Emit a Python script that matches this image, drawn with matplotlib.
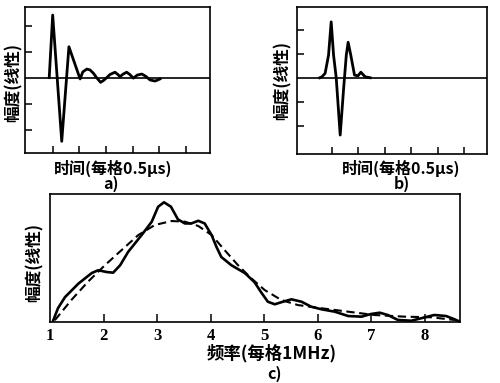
import matplotlib
matplotlib.use('Agg')
import matplotlib.pyplot as plt

plt.rcParams['font.family'] = ['Noto Sans CJK SC', 'DejaVu Sans']

# a) pulse with ringing, time axis in divisions of 0.5 us
a_t = [0.87, 1.00, 1.34, 1.61, 2.03, 2.13, 2.28, 2.40, 2.53, 2.65, 2.80, 2.92, 3.03, 3.15,
       3.34, 3.45, 3.53, 3.65, 3.78, 3.90, 4.03, 4.18, 4.35, 4.50, 4.66, 4.85, 5.03]
a_amp = [0.0, 2.41, -2.45, 1.19, -0.05, 0.22, 0.33, 0.30, 0.17, 0.0, -0.18, -0.10, 0.0, 0.12,
         0.21, 0.12, 0.04, 0.14, 0.21, 0.12, -0.02, 0.10, 0.14, 0.05, -0.09, -0.13, -0.05]

# b) damped pulse
b_t = [0.55, 0.63, 0.75, 0.88, 0.98, 1.07, 1.17, 1.32, 1.45, 1.55, 1.62, 1.72, 1.86, 1.99,
       2.10, 2.26, 2.45]
b_amp = [0.0, 0.04, 0.18, 0.94, 2.33, 0.94, 0.0, -2.39, -0.44, 0.94, 1.48, 0.94, 0.11, 0.08,
         0.23, 0.04, 0.0]

# c) spectra (MHz)
c_f = [1.06, 1.15, 1.28, 1.53, 1.78, 1.90, 2.06, 2.18, 2.31, 2.46, 2.71, 2.90, 3.02, 3.13,
       3.26, 3.39, 3.52, 3.64, 3.77, 3.89, 4.02, 4.11, 4.20, 4.39, 4.64, 4.82, 4.95, 5.07,
       5.20, 5.32, 5.51, 5.70, 5.88, 6.07, 6.32, 6.57, 6.82, 7.00, 7.16, 7.31, 7.50, 7.75,
       7.93, 8.18, 8.40, 8.56, 8.65]
c_amp = [0.08, 1.05, 1.91, 2.97, 3.80, 4.02, 3.88, 3.83, 4.41, 5.46, 6.77, 7.82, 9.0, 9.35,
         9.0, 8.01, 7.69, 7.69, 7.90, 7.69, 6.77, 5.85, 5.06, 4.41, 3.80, 3.09, 2.26, 1.55,
         1.35, 1.51, 1.74, 1.55, 1.16, 0.96, 0.77, 0.43, 0.38, 0.59, 0.69, 0.51, 0.12, 0.06,
         0.25, 0.51, 0.43, 0.17, 0.0]
c_f_fit = [1.09, 1.40, 1.71, 2.03, 2.34, 2.65, 2.96, 3.27, 3.52, 3.77, 4.02, 4.26, 4.51,
           4.76, 5.01, 5.32, 5.63, 6.07, 6.57, 7.06, 7.62, 8.12, 8.56]
c_amp_fit = [0.1, 1.69, 3.12, 4.43, 5.61, 6.78, 7.57, 7.88, 7.83, 7.49, 6.78, 5.61, 4.43,
             3.39, 2.47, 1.69, 1.29, 1.04, 0.77, 0.51, 0.38, 0.33, 0.12]
c_ticks = [1, 2, 3, 4, 5, 6, 7, 8]

ylab = '幅度(线性)'
xlab_t = '时间(每格0.5μs)'
xlab_f = '频率(每格1MHz)'

W, H = 500, 383
fig = plt.figure(figsize=(W / 100, H / 100), dpi=100)


def box(l, t, r, b):
    return [l / W, 1 - b / H, (r - l) / W, (b - t) / H]


def ftext(x, y, s, **kw):
    fig.text(x / W, 1 - y / H, s, ha='center', va='center', fontweight='bold', **kw)


def style(ax):
    for sp in ax.spines.values():
        sp.set_linewidth(1.2)
    ax.tick_params(direction='in', length=5, width=1.1, labelbottom=False, labelleft=False)


ax_a = fig.add_axes(box(25, 7, 210, 153))
ax_a.axhline(0, color='k', lw=1.2)
ax_a.plot(a_t, a_amp, color='k', lw=2.0)
ax_a.set_xlim(-0.04, 6.91)
ax_a.set_ylim(-2.9, 2.72)
ax_a.set_xticks([1, 2, 3, 4, 5, 6])
ax_a.set_yticks([-2, -1, 1, 2])
style(ax_a)

ax_b = fig.add_axes(box(297, 7, 487, 154))
ax_b.axhline(0, color='k', lw=1.2)
ax_b.plot(b_t, b_amp, color='k', lw=2.0)
ax_b.set_xlim(-0.31, 6.86)
ax_b.set_ylim(-3.18, 2.95)
ax_b.set_xticks([1, 2, 3, 4, 5, 6])
ax_b.set_yticks([-2, -1, 1, 2])
style(ax_b)

ax_c = fig.add_axes(box(50, 194, 460, 321.5))
ax_c.plot(c_f, c_amp, color='k', lw=1.9)
ax_c.plot(c_f_fit, c_amp_fit, color='k', lw=1.5, dashes=(4, 2.2))
ax_c.set_xlim(1, 8.66)
ax_c.set_ylim(0, 10)
ax_c.set_xticks(c_ticks)
ax_c.set_yticks([])
style(ax_c)
ax_c.tick_params(labelbottom=True, length=6, pad=5)
ax_c.set_xticklabels([str(v) for v in c_ticks], family='Liberation Serif', fontsize=12,
                     fontweight='bold')
ax_c.xaxis.get_ticklines()[0].set_visible(False)

ftext(14, 83, ylab, rotation=90, fontsize=12)
ftext(113, 168, xlab_t, fontsize=11.5)
ftext(111, 184, 'a)', fontsize=11.5)
ftext(283, 80, ylab, rotation=90, fontsize=12)
ftext(401, 168, xlab_t, fontsize=11.5)
ftext(402, 184, 'b)', fontsize=11.5)
ftext(35, 263, ylab, rotation=90, fontsize=12)
ftext(272, 353, xlab_f, fontsize=12.5)
ftext(275, 374, 'c)', fontsize=11.5)

fig.savefig('out.png', dpi=100)
